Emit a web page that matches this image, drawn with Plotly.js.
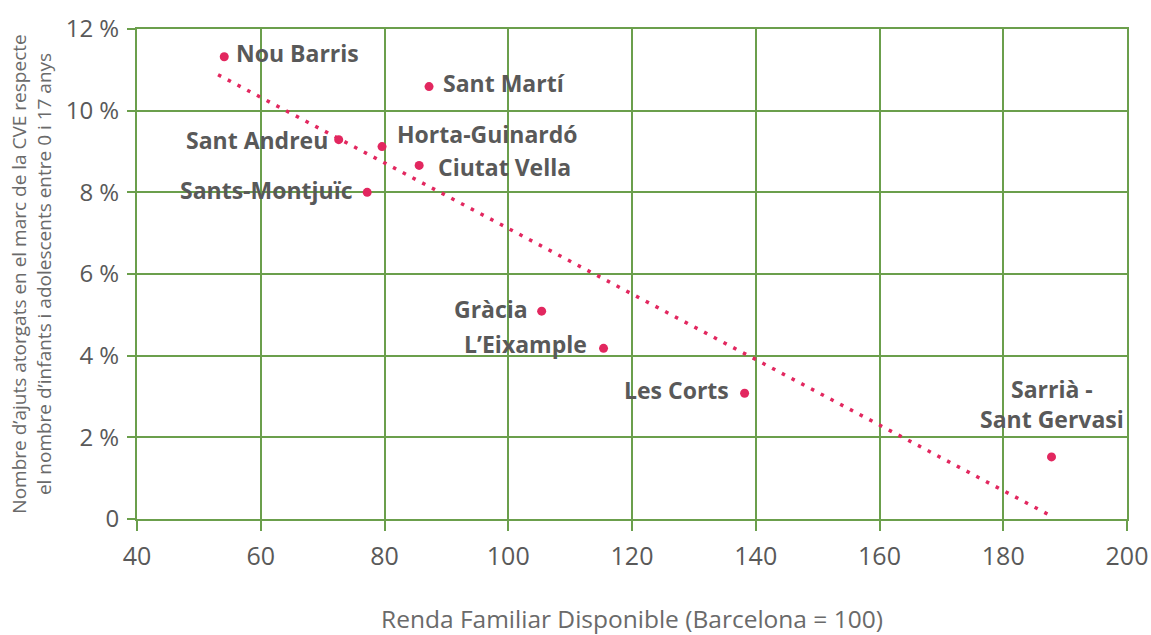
<!DOCTYPE html>
<html>
<head>
<meta charset="utf-8">
<script src="https://cdn.plot.ly/plotly-3.0.1.min.js"></script>
<style>html,body{margin:0;padding:0;background:#fff;}#chart{width:1151px;height:635px;}</style>
</head>
<body>
<div id="chart"></div>
<script>
// ---- data ----
const districts = ["Nou Barris", "Sant Martí", "Sant Andreu", "Horta-Guinardó", "Ciutat Vella",
                   "Sants-Montjuïc", "Gràcia", "L’Eixample", "Les Corts", "Sarrià -<br>Sant Gervasi"];
const renda = [54.1, 87.2, 72.6, 79.6, 85.6, 77.2, 105.4, 115.4, 138.2, 187.8];
const ajuts = [11.32, 10.59, 9.29, 9.12, 8.66, 8.0, 5.09, 4.18, 3.08, 1.52];
const trendX = [53.1, 187.8];
const trendY = [10.88, 0.07];
const yTickVals = [0, 2, 4, 6, 8, 10, 12];
const yTickText = ["0", "2 %", "4 %", "6 %", "8 %", "10 %", "12 %"];
const xTickVals = [40, 60, 80, 100, 120, 140, 160, 180, 200];

// ---- label placement (style) ----
const place = {
  "Nou Barris": {xa: "left", dx: 10, dy: 4},
  "Sant Martí": {xa: "left", dx: 12, dy: 4},
  "Sant Andreu": {xa: "right", dx: -9, dy: 0},
  "Horta-Guinardó": {xa: "left", dx: 13, dy: 13},
  "Ciutat Vella": {xa: "left", dx: 17, dy: -2},
  "Sants-Montjuïc": {xa: "right", dx: -12, dy: 2},
  "Gràcia": {xa: "right", dx: -12, dy: 2},
  "L’Eixample": {xa: "right", dx: -15, dy: 4},
  "Les Corts": {xa: "right", dx: -14, dy: 3}
};

const red = "#e2275f";
const green = "#6b9f4c";
const grey = "#595959";
const font = "Open Sans, sans-serif";
const labelSize = 23;

const annotations = districts.map((d, i) => {
  const p = place[d];
  if (p) {
    return {x: renda[i], y: ajuts[i], xref: "x", yref: "y", text: "<b>" + d + "</b>",
      showarrow: false, xanchor: p.xa, yanchor: "middle", xshift: p.dx, yshift: p.dy,
      font: {family: font, size: labelSize, color: grey}};
  }
  return {x: renda[i], y: ajuts[i], xref: "x", yref: "y", text: "<b>" + d.replace("<br>", "</b><br><b>") + "</b>",
    showarrow: false, xanchor: "center", yanchor: "bottom", xshift: 0, yshift: 20, align: "center",
    font: {family: font, size: labelSize, color: grey}};
});

const traces = [
  {x: trendX, y: trendY, type: "scatter", mode: "lines",
   line: {color: red, width: 3.5, dash: "3.5px,7.5px"}, hoverinfo: "skip"},
  {x: renda, y: ajuts, type: "scatter", mode: "markers",
   marker: {color: red, size: 9}, text: districts}
];

const layout = {
  width: 1151, height: 635,
  margin: {l: 137, r: 24, t: 29, b: 116},
  paper_bgcolor: "#fff", plot_bgcolor: "#fff",
  showlegend: false,
  font: {family: font, color: grey},
  xaxis: {
    range: [40, 200], tickvals: xTickVals, ticks: "outside", ticklen: 10, tickcolor: green, tickwidth: 2,
    showgrid: true, gridcolor: green, gridwidth: 2, zeroline: false,
    showline: true, linecolor: green, linewidth: 2, mirror: true,
    tickfont: {family: font, size: 25, color: grey}, ticklabelstandoff: 4,
    title: {text: "Renda Familiar Disponible (Barcelona = 100)", font: {family: font, size: 24.5, color: "#6a6a6a"}, standoff: 41}
  },
  yaxis: {
    range: [0, 12], tickvals: yTickVals, ticktext: yTickText, ticks: "outside", ticklen: 8, tickcolor: green, tickwidth: 2,
    showgrid: true, gridcolor: green, gridwidth: 2, zeroline: false,
    showline: true, linecolor: green, linewidth: 2, mirror: true,
    tickfont: {family: font, size: 24, color: grey}, ticklabelstandoff: 3,
    title: {text: "Nombre d’ajuts atorgats en el marc de la CVE respecte<br>el nombre d’infants i adolescents entre 0 i 17 anys",
      font: {family: font, size: 19, color: "#6a6a6a"}, standoff: 9}
  },
  annotations: annotations
};

Plotly.newPlot("chart", traces, layout, {displayModeBar: false, staticPlot: true});
</script>
</body>
</html>
